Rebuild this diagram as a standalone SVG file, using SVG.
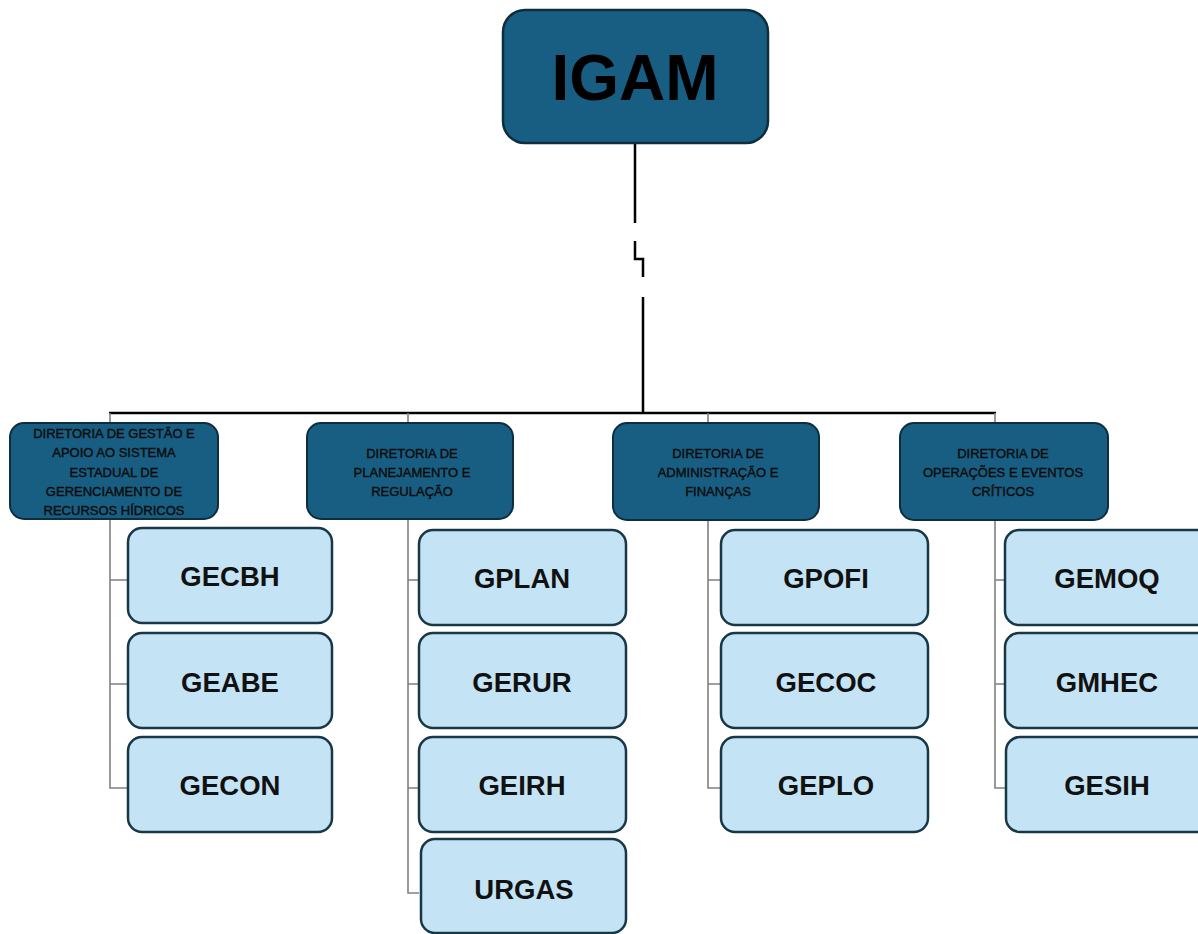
<svg xmlns="http://www.w3.org/2000/svg" width="1198" height="934" viewBox="0 0 1198 934">
<defs>
<style>
.top{fill:#185E82;stroke:#0E2D3D;stroke-width:2.5}
.dir{fill:#185E82;stroke:#0E2D3D;stroke-width:2}
.sub{fill:#C4E4F5;stroke:#183848;stroke-width:2.5}
.main{stroke:#000;stroke-width:2.5;fill:none}
.br{stroke:#808080;stroke-width:1.6;fill:none}
.t0{font-family:"Liberation Sans",Arial,sans-serif;font-weight:bold;font-size:64px;fill:#000;text-anchor:middle}
.t1{font-family:"Liberation Sans",Arial,sans-serif;font-size:13px;fill:#0a0a0a;stroke:#0a0a0a;stroke-width:0.35;text-anchor:middle}
.t2{font-family:"Liberation Sans",Arial,sans-serif;font-weight:bold;font-size:27.5px;fill:#111;text-anchor:middle}
</style>
</defs>
<rect width="1198" height="934" fill="#fff"/>
<g id="connectors">
<path class="main" d="M635 143V223M635 241V259H643V277M643 297V413M109 413H996"/>
<path class="br" d="M110 413V788H128M110 580H128M110 684H128"/>
<path class="br" d="M408 413V893H419M408 580H419M408 684H419M408 788H419"/>
<path class="br" d="M708 413V788H721M708 580H721M708 684H721"/>
<path class="br" d="M995 413V788H1005M995 580H1005M995 684H1005"/>
</g>
<g id="igam"><rect class="top" x="503" y="10" width="265" height="133" rx="22"/><text class="t0" x="635" y="100">IGAM</text></g>
<g id="dir1"><rect class="dir" x="10" y="423" width="208" height="96" rx="14"/>
<text class="t1" x="114"><tspan x="114" y="438">DIRETORIA DE GESTÃO E</tspan><tspan x="114" y="457">APOIO AO SISTEMA</tspan><tspan x="114" y="477">ESTADUAL DE</tspan><tspan x="114" y="496">GERENCIAMENTO DE</tspan><tspan x="114" y="515">RECURSOS HÍDRICOS</tspan></text></g>
<g id="dir2"><rect class="dir" x="307" y="423" width="206" height="96" rx="14"/>
<text class="t1"><tspan x="412" y="458">DIRETORIA DE</tspan><tspan x="412" y="477">PLANEJAMENTO E</tspan><tspan x="412" y="496">REGULAÇÃO</tspan></text></g>
<g id="dir3"><rect class="dir" x="613" y="423" width="206" height="97" rx="14"/>
<text class="t1"><tspan x="718" y="458">DIRETORIA DE</tspan><tspan x="718" y="477">ADMINISTRAÇÃO E</tspan><tspan x="718" y="496">FINANÇAS</tspan></text></g>
<g id="dir4"><rect class="dir" x="900" y="423" width="208" height="97" rx="14"/>
<text class="t1"><tspan x="1003" y="458">DIRETORIA DE</tspan><tspan x="1003" y="477">OPERAÇÕES E EVENTOS</tspan><tspan x="1003" y="496">CRÍTICOS</tspan></text></g>
<g id="gecbh"><rect class="sub" x="128" y="528" width="204" height="95" rx="14"/><text class="t2" x="230" y="586">GECBH</text></g>
<g id="geabe"><rect class="sub" x="128" y="633" width="204" height="95" rx="14"/><text class="t2" x="230" y="692">GEABE</text></g>
<g id="gecon"><rect class="sub" x="128" y="737" width="204" height="95" rx="14"/><text class="t2" x="230" y="795">GECON</text></g>
<g id="gplan"><rect class="sub" x="419" y="530" width="207" height="95" rx="14"/><text class="t2" x="522" y="588">GPLAN</text></g>
<g id="gerur"><rect class="sub" x="419" y="633" width="207" height="95" rx="14"/><text class="t2" x="522" y="692">GERUR</text></g>
<g id="geirh"><rect class="sub" x="419" y="737" width="207" height="95" rx="14"/><text class="t2" x="522" y="795">GEIRH</text></g>
<g id="urgas"><rect class="sub" x="421" y="839" width="205" height="94" rx="14"/><text class="t2" x="524" y="899">URGAS</text></g>
<g id="gpofi"><rect class="sub" x="721" y="530" width="207" height="95" rx="14"/><text class="t2" x="826" y="588">GPOFI</text></g>
<g id="gecoc"><rect class="sub" x="721" y="633" width="207" height="95" rx="14"/><text class="t2" x="826" y="692">GECOC</text></g>
<g id="geplo"><rect class="sub" x="721" y="737" width="207" height="95" rx="14"/><text class="t2" x="826" y="795">GEPLO</text></g>
<g id="gemoq"><rect class="sub" x="1005" y="530" width="206" height="95" rx="14"/><text class="t2" x="1107" y="588">GEMOQ</text></g>
<g id="gmhec"><rect class="sub" x="1005" y="633" width="206" height="95" rx="14"/><text class="t2" x="1107" y="692">GMHEC</text></g>
<g id="gesih"><rect class="sub" x="1006" y="737" width="206" height="95" rx="14"/><text class="t2" x="1107" y="795">GESIH</text></g>
</svg>
